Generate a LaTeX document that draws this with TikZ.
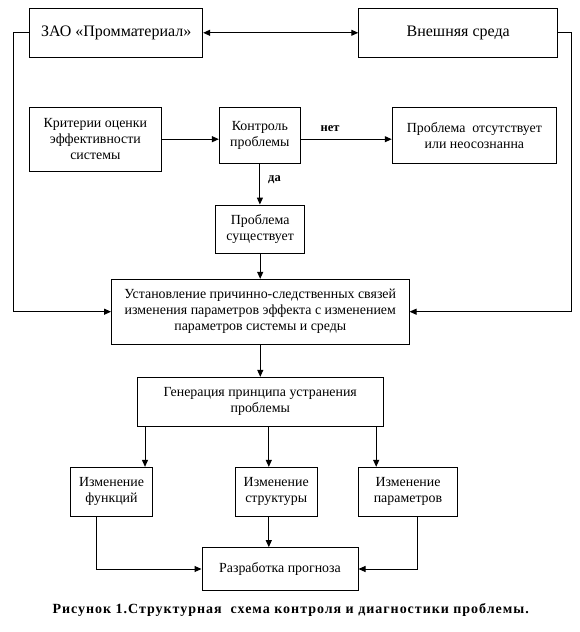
\documentclass[tikz,border=0pt]{standalone}
\usepackage{fontspec}
\setmainfont{Liberation Serif}
\usetikzlibrary{arrows.meta}
\begin{document}
\begin{tikzpicture}[x=1pt,y=-1pt,
  box/.style={draw, line width=1pt, inner sep=0pt, align=center, font=\fontsize{13.9}{16}\selectfont},
  bigbox/.style={box, font=\fontsize{16}{18}\selectfont},
  arr/.style={-{Triangle[length=7pt,width=6pt]}, line width=1pt},
  darr/.style={{Triangle[length=7pt,width=6pt]}-{Triangle[length=7pt,width=6pt]}, line width=1pt},
  lbl/.style={font=\bfseries\fontsize{12.5}{14}\selectfont, inner sep=0pt}]
\useasboundingbox (0,0) rectangle (580,632);

\node[bigbox, minimum width=172.9pt, minimum height=49pt] (zao) at (116.2,32.8) {ЗАО «Промматериал»};
\node[bigbox, minimum width=198.9pt, minimum height=49pt] (vnesh) at (458.2,32.8) {Внешняя среда};
\node[box, minimum width=131.3pt, minimum height=63.7pt] (krit) at (95.4,139.2) {Критерии оценки\\эффективности\\системы};
\node[box, minimum width=81.1pt, minimum height=56pt] (kontr) at (259.9,135.3) {Контроль\\проблемы};
\node[box, minimum width=164.3pt, minimum height=56pt] (probots) at (474.4,135.3) {Проблема~ отсутствует\\или неосознанна};
\node[box, minimum width=89.2pt, minimum height=48.3pt] (sushch) at (260.2,229.2) {Проблема\\существует};
\node[box, minimum width=297.5pt, minimum height=64.7pt] (ustan) at (260.3,311.7) {Установление причинно-следственных связей\\изменения параметров эффекта с изменением\\параметров системы и среды};
\node[box, minimum width=245.5pt, minimum height=48.7pt] (gener) at (260.3,401.7) {Генерация принципа устранения\\проблемы};
\node[box, minimum width=81.8pt, minimum height=48.7pt] (funk) at (111.5,491.7) {Изменение\\функций};
\node[box, minimum width=81.8pt, minimum height=48.7pt] (strukt) at (276.2,491.7) {Изменение\\структуры};
\node[box, minimum width=98.5pt, minimum height=48.7pt] (param) at (408,491.7) {Изменение\\параметров};
\node[box, minimum width=156pt, minimum height=42.7pt] (razrab) at (280,569) {Разработка прогноза};

\coordinate (b1) at (145,0);
\coordinate (b2) at (268.8,0);
\coordinate (b3) at (376.2,0);
\coordinate (c1) at (96,0);
\coordinate (c3) at (417,0);

\draw[darr] (zao.east) -- (vnesh.west);
\draw[arr] (zao.west) -- ++(-15.9,0) |- (ustan.west);
\draw[arr] (vnesh.east) -- ++(13,0) |- (ustan.east);
\draw[arr] (krit.east) -- (krit.east -| kontr.west);
\draw[arr] (kontr.east |- krit.east) -- (probots.west |- krit.east);
\draw[arr] (kontr.south) -- (kontr.south |- sushch.north);
\draw[arr] (sushch.south) -- (sushch.south |- ustan.north);
\draw[arr] (ustan.south) -- (gener.north);
\draw[arr] (gener.south -| b1) -- (funk.north -| b1);
\draw[arr] (gener.south -| b2) -- (strukt.north -| b2);
\draw[arr] (gener.south -| b3) -- (param.north -| b3);
\draw[arr] (funk.south -| c1) |- (razrab.west);
\draw[arr] (strukt.south -| b2) -- (razrab.north -| b2);
\draw[arr] (param.south -| c3) |- (razrab.east);

\node[lbl] (net) at (330,129) {нет};
\node[lbl] (da) at (274.5,180) {да};
\node[font=\bfseries\fontsize{14}{16}\selectfont\addfontfeature{LetterSpace=7}, inner sep=0pt] (cap) at (290.7,610) {Рисунок 1.Структурная~ схема контроля и диагностики проблемы.};
\end{tikzpicture}
\end{document}
